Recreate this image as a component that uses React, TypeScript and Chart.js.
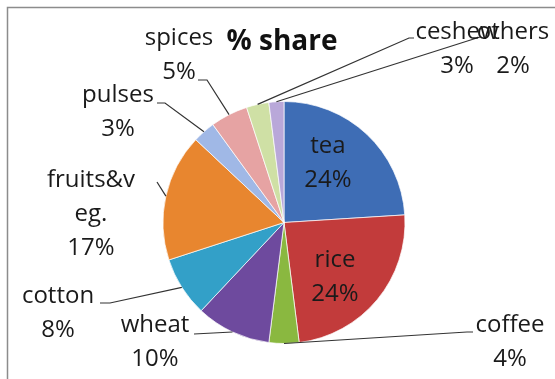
import React, { useEffect, useRef } from 'react';
import { Chart, registerables } from 'chart.js';

Chart.register(...registerables);

// ---- data ----
const categories = ['tea', 'rice', 'coffee', 'wheat', 'cotton', 'fruits&veg.', 'pulses', 'spices', 'ceshew', 'others'];
const shares = [24, 24, 4, 10, 8, 17, 3, 5, 3, 2];
const labelNames = [['tea'], ['rice'], ['coffee'], ['wheat'], ['cotton'], ['fruits&v', 'eg.'], ['pulses'], ['spices'], ['ceshew'], ['others']];
const titleText = '% share';

// ---- styles / layout ----
const sliceColors = ['#3E6DB5', '#C23B3B', '#8AB840', '#6E4A9E', '#33A0C8', '#E8862F', '#A0B8E6', '#E6A3A3', '#CFE0A5', '#B9A8D9'];
const labelPos = [[328, 153], [335, 267], [510, 332], [155, 332], [58, 303], [91, 187], [118, 102], [179, 45], [457, 39], [513, 39]];
const leaderPts: number[][][] = [
  [], [],
  [[473, 332], [467, 332]],
  [[194, 334]],
  [[100, 303], [110, 303]],
  [[157, 182]],
  [[157, 103], [165, 103]],
  [[198, 80], [207, 80]],
  [[414, 38], [409, 38]],
  [[480, 37]],
];
const FONT = '"Open Sans", sans-serif';
const LINE_H = 34;

const labelPlugin = {
  id: 'customLabels',
  beforeDraw(chart: any) {
    const ctx = chart.ctx;
    ctx.save();
    ctx.fillStyle = '#ffffff';
    ctx.fillRect(0, 0, chart.width, chart.height);
    ctx.strokeStyle = '#8c8c8c';
    ctx.lineWidth = 1.5;
    ctx.beginPath();
    ctx.moveTo(7.5, chart.height);
    ctx.lineTo(7.5, 7.5);
    ctx.lineTo(chart.width, 7.5);
    ctx.stroke();
    ctx.restore();
  },
  afterDatasetsDraw(chart: any) {
    const ctx = chart.ctx;
    const meta = chart.getDatasetMeta(0);
    ctx.save();
    // leader lines
    ctx.strokeStyle = '#333333';
    ctx.lineWidth = 1.2;
    meta.data.forEach((arc: any, i: number) => {
      const pts = leaderPts[i];
      if (!pts || pts.length === 0) return;
      const p = arc.getProps(['x', 'y', 'startAngle', 'endAngle', 'outerRadius'], true);
      const mid = (p.startAngle + p.endAngle) / 2;
      const ex = p.x + Math.cos(mid) * p.outerRadius;
      const ey = p.y + Math.sin(mid) * p.outerRadius;
      ctx.beginPath();
      ctx.moveTo(pts[0][0], pts[0][1]);
      for (let k = 1; k < pts.length; k++) ctx.lineTo(pts[k][0], pts[k][1]);
      ctx.lineTo(ex, ey);
      ctx.stroke();
    });
    // labels
    ctx.fillStyle = '#1a1a1a';
    ctx.textAlign = 'center';
    ctx.textBaseline = 'alphabetic';
    ctx.font = `24px ${FONT}`;
    categories.forEach((_, i) => {
      const lines = [...labelNames[i], `${shares[i]}%`];
      const [cx, by] = labelPos[i];
      lines.forEach((t, k) => ctx.fillText(t, cx, by + k * LINE_H));
    });
    // title
    ctx.font = `bold 28px ${FONT}`;
    ctx.fillStyle = '#111111';
    ctx.fillText(titleText, 282, 50);
    ctx.restore();
  },
};

export default function App() {
  const ref = useRef<HTMLCanvasElement>(null);
  useEffect(() => {
    if (!ref.current) return;
    const chart = new Chart(ref.current, {
      type: 'pie',
      data: {
        labels: categories,
        datasets: [{
          data: shares,
          backgroundColor: sliceColors,
          borderColor: 'rgba(255,255,255,0.7)',
          borderWidth: 1,
        }],
      },
      options: {
        responsive: false,
        animation: false,
        devicePixelRatio: 1,
        layout: { padding: { left: 162.5, right: 149.5, top: 101, bottom: 35 } },
        plugins: {
          legend: { display: false },
          title: { display: false },
          tooltip: { enabled: false },
        },
      },
      plugins: [labelPlugin],
    });
    return () => chart.destroy();
  }, []);
  return (
    <div style={{ position: 'fixed', left: 0, top: 0, width: 555, height: 379, background: '#fff' }}>
      <canvas ref={ref} width={555} height={379} style={{ display: 'block' }} />
    </div>
  );
}
